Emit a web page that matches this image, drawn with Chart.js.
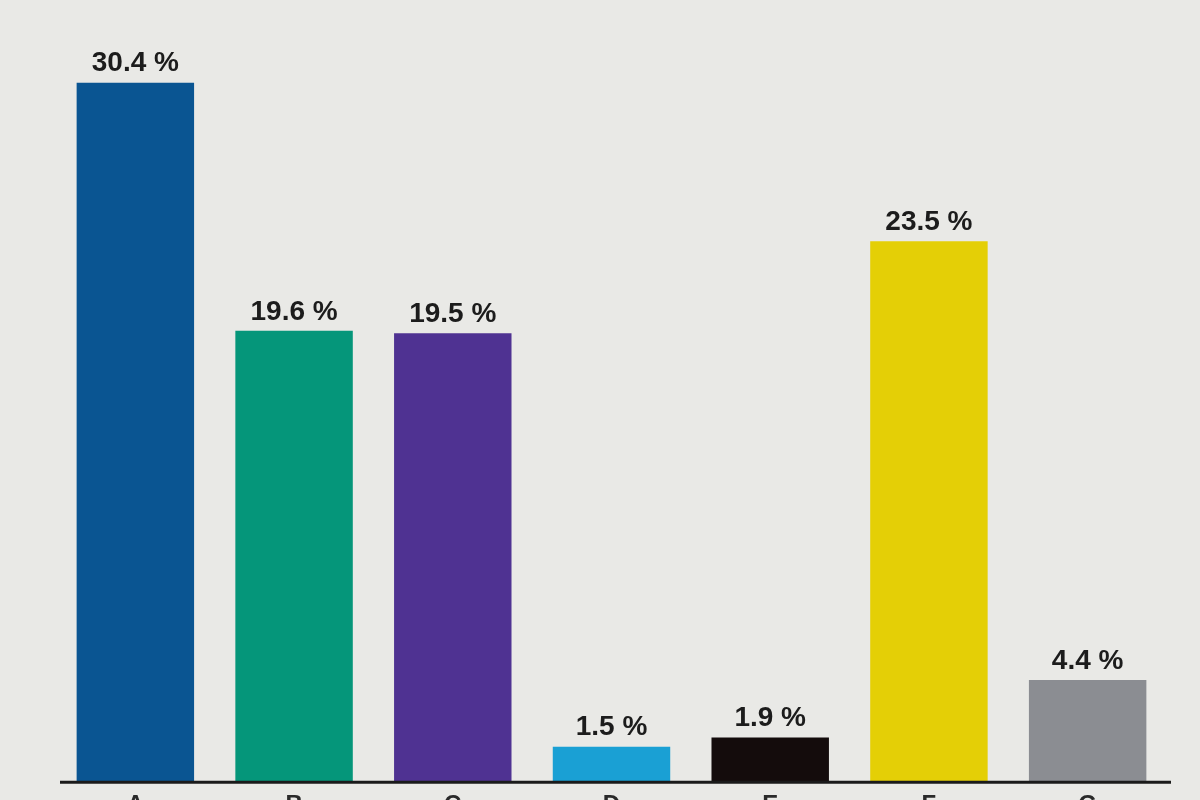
<!DOCTYPE html>
<html>
<head>
<meta charset="utf-8">
<script src="https://cdn.jsdelivr.net/npm/chart.js@4"></script>
<style>
  html, body { margin: 0; padding: 0; background: #e9e9e6; overflow: hidden; }
  #wrap { position: relative; width: 1200px; height: 830px; }
</style>
</head>
<body>
<div id="wrap"><canvas id="shares"></canvas></div>
<script>
// categories are unreadable in the reference (cut off at the bottom edge)
let categories = ["A", "B", "C", "D", "E", "F", "G"];
let shares = [30.4, 19.6, 19.5, 1.5, 1.9, 23.5, 4.4];
let bar_colors = ["#0a5592", "#05967a", "#4f3292", "#1aa0d4", "#140c0c", "#e4cf06", "#8b8d92"];

let share_canvas = document.getElementById("shares");

// value labels above each bar
let valueLabels = {
    id: "valueLabels",
    afterDatasetsDraw(chart) {
        let ctx = chart.ctx;
        let meta = chart.getDatasetMeta(0);
        ctx.save();
        ctx.font = "bold 28px 'Liberation Sans', Arial, sans-serif";
        ctx.fillStyle = "#1c1c1c";
        ctx.textAlign = "center";
        ctx.textBaseline = "bottom";
        meta.data.forEach((bar, i) => {
            ctx.fillText(shares[i].toFixed(1) + " %", bar.x, bar.y - 5);
        });
        ctx.restore();
    }
};

// dark baseline under the bars, a bit wider than the plot area
let baseLine = {
    id: "baseLine",
    afterDatasetsDraw(chart) {
        let ctx = chart.ctx;
        let y = chart.scales.y.getPixelForValue(0);
        ctx.save();
        ctx.strokeStyle = "#1a1a1a";
        ctx.lineWidth = 3;
        ctx.beginPath();
        ctx.moveTo(chart.chartArea.left + 4, y + 1);
        ctx.lineTo(chart.chartArea.right + 4, y + 1);
        ctx.stroke();
        ctx.restore();
    }
};

let share_chart = new Chart(share_canvas, {
    type: "bar",
    data: {
        labels: categories,
        datasets: [{
            data: shares,
            backgroundColor: bar_colors,
            borderWidth: 0,
            barPercentage: 0.74,
            categoryPercentage: 1.0
        }]
    },
    options: {
        responsive: true,
        maintainAspectRatio: false,
        animation: false,
        layout: { padding: { left: 56, right: 33, top: 0, bottom: 0 } },
        plugins: {
            legend: { display: false },
            tooltip: { enabled: false }
        },
        scales: {
            x: {
                grid: { display: false, drawTicks: false },
                border: { display: false },
                ticks: {
                    color: "#2a2a2a",
                    padding: 10,
                    font: { size: 24, weight: "bold", family: "'Liberation Sans', Arial, sans-serif" }
                }
            },
            y: {
                display: false,
                min: 0,
                max: 34
            }
        }
    },
    plugins: [valueLabels, baseLine]
});
</script>
</body>
</html>
